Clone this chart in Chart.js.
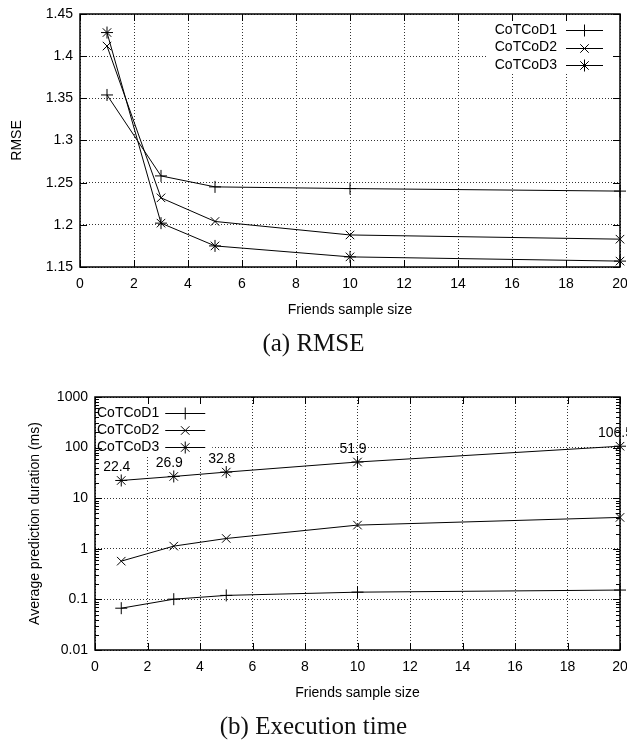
<!DOCTYPE html>
<html lang="en">
<head>
<meta charset="UTF-8">
<title>CoTCoD: RMSE and execution time</title>
<script src="https://cdn.jsdelivr.net/npm/chart.js@4.4.0/dist/chart.umd.min.js"></script>
<style>
  body { margin: 0; background: #fff; }
  #page { position: relative; width: 627px; height: 740px; overflow: hidden; }
  canvas { position: absolute; left: 0; }
  .caption {
    position: absolute; left: 0; width: 627px; text-align: center;
    font-family: "Liberation Serif", "Times New Roman", serif;
    font-size: 25px; line-height: 28px; color: #111;
  }
</style>
</head>
<body>
<div id="page">
  <canvas id="rmseChart" width="627" height="330" style="top:0"></canvas>
  <div class="caption" style="top:329px">(a) RMSE</div>
  <canvas id="timeChart" width="627" height="345" style="top:360px"></canvas>
  <div class="caption" style="top:712px">(b) Execution time</div>
</div>
<script>
const sampleSizes = [1, 3, 5, 10, 20];
const seriesNames = ['CoTCoD1', 'CoTCoD2', 'CoTCoD3'];

const rmseD1 = [1.354, 1.258, 1.245, 1.243, 1.240];
const rmseD2 = [1.412, 1.232, 1.204, 1.188, 1.183];
const rmseD3 = [1.428, 1.202, 1.175, 1.162, 1.157];

// average prediction duration in ms
const timeD1 = [0.067, 0.101, 0.12, 0.139, 0.153];
const timeD2 = [0.57, 1.13, 1.6, 2.94, 4.17];
const timeD3 = [22.4, 26.9, 32.8, 51.9, 106.5];

const xTicks = [0, 2, 4, 6, 8, 10, 12, 14, 16, 18, 20];
const rmseTicks = [1.15, 1.2, 1.25, 1.3, 1.35, 1.4, 1.45];
const timeTicks = [0.01, 0.1, 1, 10, 100, 1000];

const FONT = '"Liberation Sans", Arial, sans-serif';
const markers = ['cross', 'crossRot', 'star'];

function series(values) {
  return values.map(v => v.map((y, i) => ({ x: sampleSizes[i], y })));
}

function makeDatasets(lists) {
  return series(lists).map((pts, i) => ({
    label: seriesNames[i],
    data: pts,
    borderColor: '#000',
    borderWidth: 1,
    pointStyle: markers[i],
    pointRadius: 6,
    pointBorderColor: '#000',
    pointBorderWidth: 1,
    tension: 0,
    clip: false
  }));
}

// gnuplot-like frame: key box, mirrored ticks, border, value labels
const gnuplotFrame = {
  id: 'gnuplotFrame',
  beforeDatasetsDraw(chart, args, opts) {
    const ctx = chart.ctx, a = chart.chartArea, lg = opts.legend;
    const sets = chart.data.datasets;
    ctx.save();
    ctx.font = '14px ' + FONT;
    const textW = Math.max(...sets.map(d => ctx.measureText(d.label).width));
    const textLeft = lg.side === 'right' ? a.right - lg.inset - textW : a.left + lg.inset;
    const textRight = textLeft + textW;
    const lineStart = textRight + lg.gap, lineEnd = lineStart + lg.lineLen;

    ctx.fillStyle = '#fff';
    if (lg.side === 'right') {
      ctx.fillRect(textLeft - 8, a.top + 1, a.right - textLeft + 7, lg.boxH);
    } else {
      ctx.fillRect(a.left + 1, a.top + 1, lineEnd + 6 - a.left, lg.boxH);
    }

    ctx.fillStyle = '#000';
    ctx.strokeStyle = '#000';
    ctx.lineWidth = 1;
    ctx.textBaseline = 'middle';
    ctx.textAlign = lg.side === 'right' ? 'right' : 'left';
    sets.forEach((d, i) => {
      const y = a.top + lg.y0 + i * lg.rowH;
      ctx.fillText(d.label, lg.side === 'right' ? textRight : textLeft, y);
      ctx.beginPath();
      ctx.moveTo(lineStart, Math.round(y) + 0.5);
      ctx.lineTo(lineEnd, Math.round(y) + 0.5);
      ctx.stroke();
      Chart.helpers.drawPoint(ctx, {
        pointStyle: d.pointStyle, radius: 6, rotation: 0, borderWidth: 1
      }, (lineStart + lineEnd) / 2, Math.round(y) + 0.5);
    });
    ctx.restore();
  },
  afterDraw(chart, args, opts) {
    const ctx = chart.ctx, a = chart.chartArea;
    const xs = chart.scales.x, ys = chart.scales.y;
    ctx.save();
    ctx.strokeStyle = '#000';
    ctx.lineWidth = 1;
    ctx.beginPath();
    xs.ticks.forEach(t => {
      const px = Math.round(xs.getPixelForValue(t.value)) + 0.5;
      ctx.moveTo(px, a.bottom); ctx.lineTo(px, a.bottom - 7);
      ctx.moveTo(px, a.top); ctx.lineTo(px, a.top + 7);
    });
    const yTick = (v, len) => {
      const py = Math.round(ys.getPixelForValue(v)) + 0.5;
      ctx.moveTo(a.left, py); ctx.lineTo(a.left + len, py);
      ctx.moveTo(a.right, py); ctx.lineTo(a.right - len, py);
    };
    ys.ticks.forEach(t => yTick(t.value, 7));
    (opts.minorY || []).forEach(v => yTick(v, 4));
    ctx.stroke();

    ctx.lineWidth = 1.5;
    ctx.strokeRect(a.left, a.top, a.right - a.left, a.bottom - a.top);

    const vl = opts.valueLabels;
    if (vl) {
      const meta = chart.getDatasetMeta(vl.dataset);
      const pts = chart.data.datasets[vl.dataset].data;
      ctx.font = '14px ' + FONT;
      ctx.fillStyle = '#000';
      ctx.textAlign = 'center';
      ctx.textBaseline = 'middle';
      meta.data.forEach((el, i) => {
        ctx.fillText(String(pts[i].y), el.x + vl.dx, el.y + vl.dy);
      });
    }
    ctx.restore();
  }
};

function axisX(height) {
  return {
    type: 'linear',
    min: 0, max: 20,
    afterBuildTicks: s => { s.ticks = xTicks.map(v => ({ value: v })); },
    afterFit: s => { s.height = height; s.paddingLeft = 0; s.paddingRight = 0; },
    grid: { color: '#333', lineWidth: 1, drawTicks: false },
    border: { display: false, dash: [1, 2] },
    ticks: { color: '#000', padding: 9, font: { family: FONT, size: 14 } },
    title: { display: true, text: 'Friends sample size', color: '#000',
             font: { family: FONT, size: 14 } }
  };
}

function baseOptions() {
  return {
    responsive: false,
    maintainAspectRatio: false,
    animation: false,
    events: [],
    plugins: { legend: { display: false }, tooltip: { enabled: false } }
  };
}

// (a) RMSE
const optA = baseOptions();
optA.layout = { padding: { left: 0, top: 14, right: 7, bottom: 0 } };
optA.scales = {
  x: axisX(63),
  y: {
    type: 'linear',
    min: 1.15, max: 1.45,
    afterBuildTicks: s => { s.ticks = rmseTicks.map(v => ({ value: v })); },
    afterFit: s => { s.width = 80; s.paddingTop = 0; s.paddingBottom = 0; },
    grid: { color: '#333', lineWidth: 1, drawTicks: false },
    border: { display: false, dash: [1, 2] },
    ticks: { color: '#000', padding: 7, font: { family: FONT, size: 14 },
             callback: v => String(v) },
    title: { display: true, text: 'RMSE', color: '#000', padding: { top: 9, bottom: 0 },
             font: { family: FONT, size: 14 } }
  }
};
optA.scales.x.title.padding = { top: 0, bottom: 11.6 };
optA.plugins.gnuplotFrame = {
  legend: { side: 'right', inset: 63, gap: 9, lineLen: 37, y0: 16, rowH: 17.5, boxH: 57 }
};

new Chart(document.getElementById('rmseChart'), {
  type: 'line',
  data: { datasets: makeDatasets([rmseD1, rmseD2, rmseD3]) },
  options: optA,
  plugins: [gnuplotFrame]
});

// (b) Execution time, log scale
const minorTime = [];
timeTicks.slice(0, -1).forEach(d => {
  for (let k = 2; k <= 9; k++) minorTime.push(d * k);
});

const optB = baseOptions();
optB.layout = { padding: { left: 0, top: 37, right: 7, bottom: 0 } };
optB.scales = {
  x: axisX(55),
  y: {
    type: 'logarithmic',
    min: 0.01, max: 1000,
    afterBuildTicks: s => { s.ticks = timeTicks.map(v => ({ value: v })); },
    afterFit: s => { s.width = 95; s.paddingTop = 0; s.paddingBottom = 0; },
    grid: { color: '#333', lineWidth: 1, drawTicks: false },
    border: { display: false, dash: [1, 2] },
    ticks: { color: '#000', padding: 7, font: { family: FONT, size: 14 },
             callback: v => String(v) },
    title: { display: true, text: 'Average prediction duration (ms)', color: '#000',
             padding: { top: 26.6, bottom: 0 }, font: { family: FONT, size: 14 } }
  }
};
optB.scales.x.title.padding = { top: 0, bottom: 3.6 };
optB.plugins.gnuplotFrame = {
  legend: { side: 'left', inset: 2, gap: 6, lineLen: 40, y0: 15.7, rowH: 17.3, boxH: 58 },
  minorY: minorTime,
  valueLabels: { dataset: 2, dx: -4.5, dy: -13 }
};

new Chart(document.getElementById('timeChart'), {
  type: 'line',
  data: { datasets: makeDatasets([timeD1, timeD2, timeD3]) },
  options: optB,
  plugins: [gnuplotFrame]
});
</script>
</body>
</html>
